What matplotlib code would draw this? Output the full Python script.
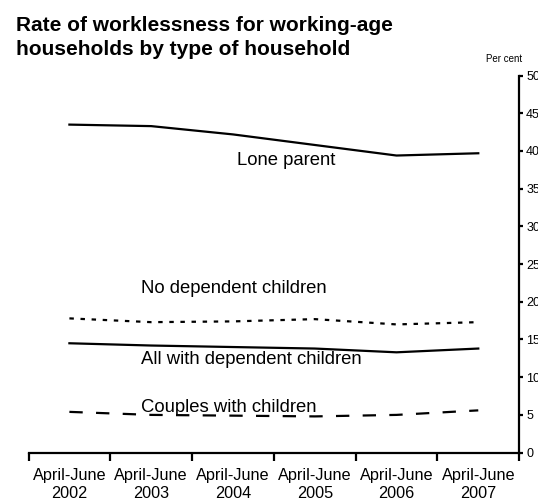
import numpy as np
import matplotlib.pyplot as plt

plt.rcParams['font.family'] = ['Liberation Sans', 'DejaVu Sans']

# data
years = ['April-June\n2002', 'April-June\n2003', 'April-June\n2004',
         'April-June\n2005', 'April-June\n2006', 'April-June\n2007']
lone_parent = [43.5, 43.3, 42.2, 40.8, 39.4, 39.7]
no_dep_children = [17.8, 17.3, 17.4, 17.7, 17.0, 17.3]
all_dep_children = [14.5, 14.2, 14.0, 13.8, 13.3, 13.8]
couples_children = [5.4, 5.0, 4.9, 4.8, 5.0, 5.6]

x = np.arange(len(years))

fig = plt.figure(figsize=(5.38, 5.04), dpi=100)
ax = fig.add_axes([0.053, 0.102, 0.912, 0.748])

# the four series
ax.plot(x, lone_parent, color='black', lw=1.6)
ax.plot(x, no_dep_children, color='black', lw=1.6, linestyle=(0, (2, 3)))
ax.plot(x, all_dep_children, color='black', lw=1.6)
ax.plot(x, couples_children, color='black', lw=1.6, linestyle=(0, (6, 6)))

# in-chart labels
lbl = dict(fontsize=13.3, va='baseline')
ax.text(2.65, 38.1, 'Lone parent', ha='center', **lbl)
ax.text(0.875, 21.2, 'No dependent children', ha='left', **lbl)
ax.text(0.875, 11.75, 'All with dependent children', ha='left', **lbl)
ax.text(0.875, 5.4, 'Couples with children', ha='left', **lbl)

ax.set_xlim(-0.5, len(years) - 0.5)
ax.set_ylim(0, 50)

# y axis on the right
ax.yaxis.tick_right()
ax.spines['left'].set_visible(False)
ax.spines['top'].set_visible(False)
ax.spines['right'].set_linewidth(1.6)
ax.spines['bottom'].set_linewidth(1.6)
ax.set_yticks(np.arange(0, 51, 5))
ax.tick_params(axis='y', direction='out', length=3, width=1.6, labelsize=9, pad=2)

# x ticks at category boundaries, labels at centres
ax.set_xticks(np.arange(-0.5, len(years), 1))
ax.set_xticklabels([])
ax.set_xticks(x, minor=True)
ax.set_xticklabels(years, minor=True, fontsize=11.7, linespacing=1.3)
ax.tick_params(axis='x', which='major', direction='out', length=6, width=1.6)
ax.tick_params(axis='x', which='minor', length=0, pad=11)

fig.text(0.03, 0.968, 'Rate of worklessness for working-age\nhouseholds by type of household',
         fontsize=15, fontweight='bold', ha='left', va='top', linespacing=1.35)
fig.text(0.937, 1 - 62 / 504, 'Per cent', fontsize=7, ha='center', va='baseline')

fig.savefig('out.png', dpi=100)
